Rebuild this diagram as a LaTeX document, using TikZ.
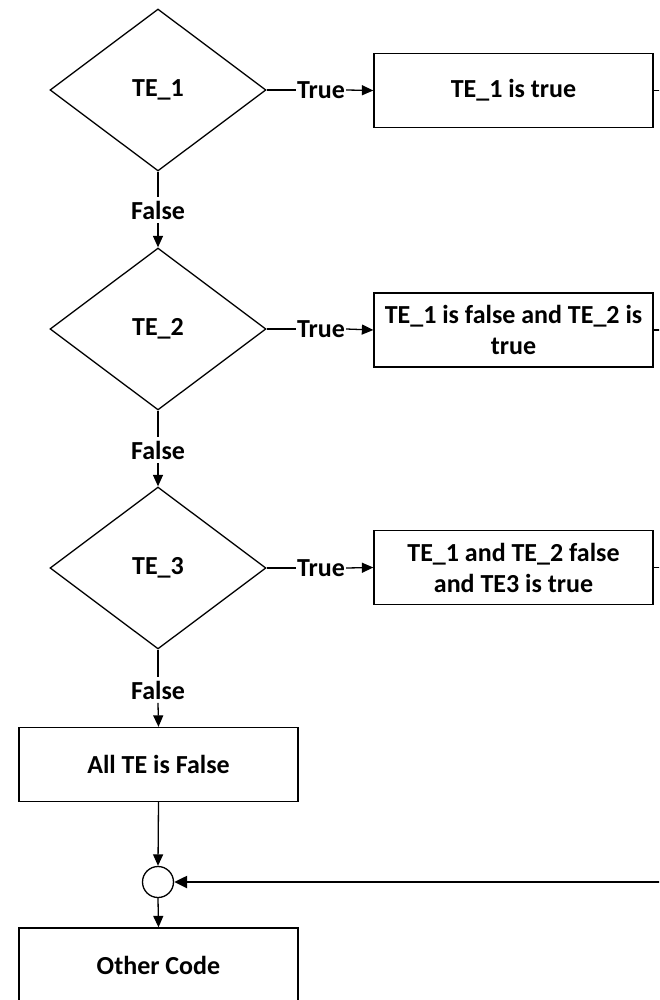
\documentclass[tikz,border=0pt]{standalone}
\usepackage{fontspec}
\setmainfont{Carlito}
\usetikzlibrary{shapes.geometric,arrows.meta}

\tikzset{
  every node/.style={font=\fontsize{26}{31}\selectfont\bfseries},
  decision/.style={diamond, draw, line width=1.3pt, inner sep=0pt,
    minimum width=216pt, minimum height=162pt},
  procbox/.style={rectangle, draw, line width=1.3pt, inner sep=0pt,
    minimum width=279pt, minimum height=74pt, align=center},
  junction/.style={circle, draw, line width=1.3pt, inner sep=0pt, minimum size=31pt},
  edgelabel/.style={inner sep=1pt},
  falselabel/.style={inner sep=3.5pt},
  link/.style={line width=1.3pt},
  flow/.style={line width=1.3pt, -{Triangle[length=11.5pt,width=10pt]}},
  merge/.style={line width=2.2pt, -{Triangle[length=13pt,width=12pt]}},
}

\begin{document}
\begin{tikzpicture}[x=1pt, y=-1pt]
  \useasboundingbox (0,0) rectangle (659,1000);
  \clip (0,0) rectangle (659,1000);

  % decisions
  \node[decision] (d1) at (158,90)  {TE\_1};
  \node[decision] (d2) at (158,329) {TE\_2};
  \node[decision] (d3) at (158,568) {TE\_3};

  % branch actions
  \node[procbox] (b1) at (513.5,90.5) {TE\_1 is true};
  \node[procbox] (b2) at (513.5,330) {TE\_1 is false and TE\_2 is\\true};
  \node[procbox] (b3) at (513.5,567.5) {TE\_1 and TE\_2 false\\and TE3 is true};

  % fall-through and continuation
  \node[procbox] (all) at (158.5,764.5) {All TE is False};
  \node[junction] (j) at (158,882) {};
  \node[procbox] (other) at (158.5,965) {Other Code};

  % True branches
  \node[edgelabel] (t1) at (321,90) {True};
  \node[edgelabel] (t2) at (321,329) {True};
  \node[edgelabel] (t3) at (321,568) {True};
  \draw[link] (d1.east) -- (t1.west);
  \draw[flow] (t1.east) -- (b1.west);
  \draw[link] (d2.east) -- (t2.west);
  \draw[flow] (t2.east) -- (b2.west);
  \draw[link] (d3.east) -- (t3.west);
  \draw[flow] (t3.east) -- (b3.west);

  % False branches
  \node[falselabel] (f1) at (158,210) {False};
  \node[falselabel] (f2) at (158,450) {False};
  \node[falselabel] (f3) at (158,690) {False};
  \draw[link] (d1.south) -- (f1.north);
  \draw[flow] (f1.south) -- (d2.north);
  \draw[link] (d2.south) -- (f2.north);
  \draw[flow] (f2.south) -- (d3.north);
  \draw[link] (d3.south) -- (f3.north);
  \draw[flow] (f3.south) -- (all.north);

  % merge into the junction
  \draw[flow] (all.south) -- (j.north);
  \draw[flow] (j.south) -- (other.north);

  % outgoing stubs of the branch boxes and the merging line
  \coordinate (s1) at (662,90.5);
  \coordinate (s2) at (662,330);
  \coordinate (s3) at (662,567.5);
  \coordinate (back) at (662,882);
  \draw[link] (b1.east) -- (s1);
  \draw[link] (b2.east) -- (s2);
  \draw[link] (b3.east) -- (s3);
  \draw[merge] (back) -- (j.east);
\end{tikzpicture}
\end{document}
